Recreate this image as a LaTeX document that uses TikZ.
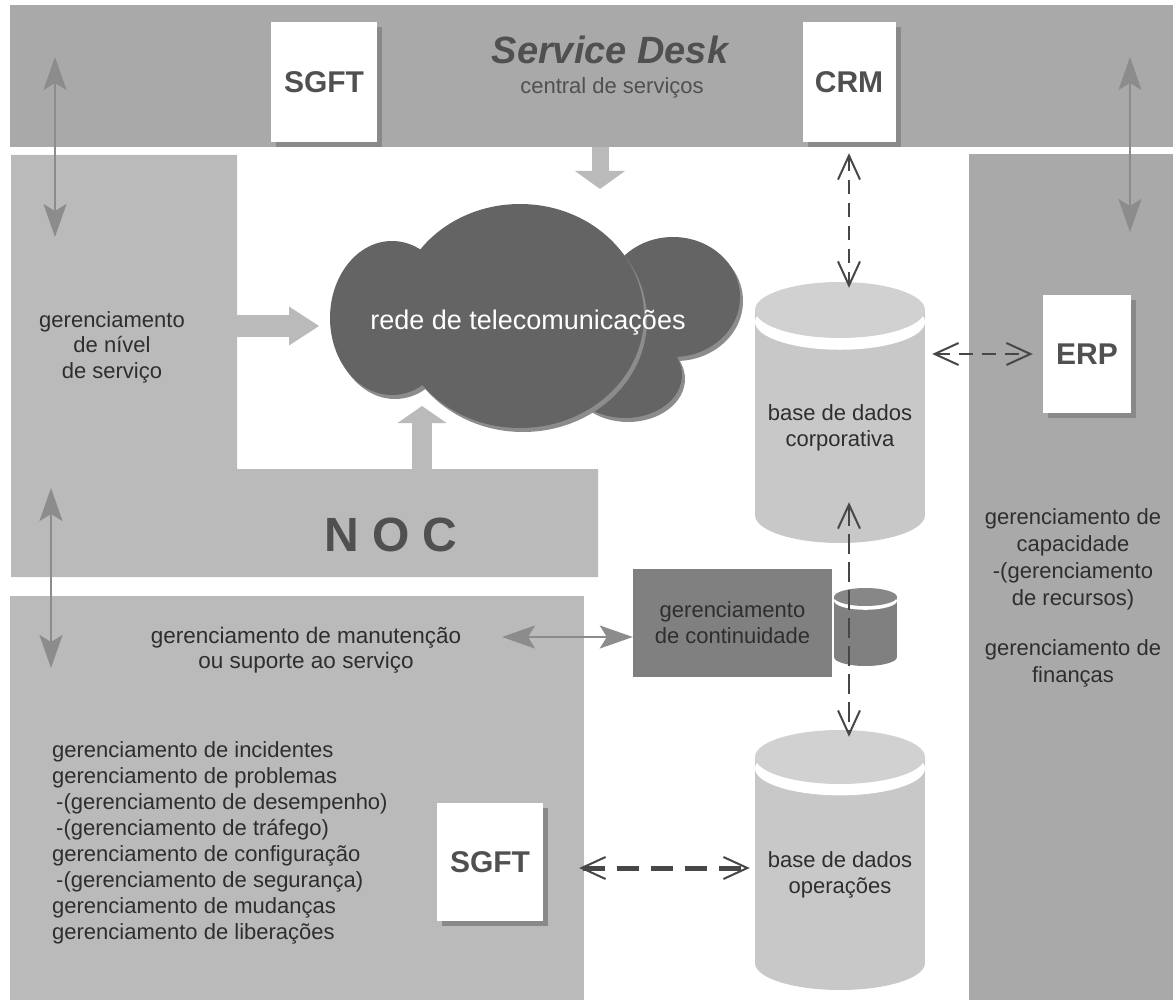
\documentclass[tikz,border=0pt]{standalone}
\usepackage{fontspec}
\setmainfont{Liberation Sans}
\usetikzlibrary{arrows.meta}
\usetikzlibrary{shadows}

\definecolor{banda}{HTML}{A9A9A9}
\definecolor{painel}{HTML}{BABABA}
\definecolor{nuvem}{HTML}{646464}
\definecolor{borda}{HTML}{8C8C8C}
\definecolor{sombra}{HTML}{898989}
\definecolor{escuro}{HTML}{2E2E2E}
\definecolor{titulo}{HTML}{505050}
\definecolor{tracejado}{HTML}{474747}
\definecolor{base}{HTML}{C8C8C8}
\definecolor{tampa}{HTML}{D1D1D1}
\definecolor{continuidade}{HTML}{808080}
\definecolor{tampinha}{HTML}{878787}

% cilindro: x centro, y tampa, y fundo, raio x, raio y, corpo, tampa
\newcommand{\cilindro}[7]{%
	\fill[#6] ({#1-#4},#2) rectangle ({#1+#4},#3);
	\fill[#6] (#1,#3) ellipse [x radius=#4, y radius=#5];
	\fill[white] (#1,{#2+0.42*#5}) ellipse [x radius=#4, y radius=#5];
	\fill[#7] (#1,#2) ellipse [x radius=#4, y radius=#5];
}

\tikzset{
	caixa/.style={fill=white, inner sep=0pt, text=titulo, font=\bfseries\fontsize{30}{32}\selectfont,
		drop shadow={shadow xshift=5pt, shadow yshift=-5pt, fill=sombra, opacity=1}},
	texto/.style={text=escuro, align=center, inner sep=0pt, font=\fontsize{22}{26}\selectfont},
	setalarga/.style n args={3}{draw=painel, line width=#1, -{Triangle[length=#2, width=#3, line width=0pt]}},
	setacinza/.style={draw=borda, line width=2pt, {Stealth[length=33pt, width=23pt, inset=7pt]}-{Stealth[length=33pt, width=23pt, inset=7pt]}},
	ligacao/.style={draw=tracejado, line width=2.6pt, dash pattern=on 14pt off 9pt,
		{Straight Barb[length=24pt, width=22pt, line width=2pt]}-{Straight Barb[length=24pt, width=22pt, line width=2pt]}}
}

\begin{document}
\begin{tikzpicture}[x=1pt, y=-1pt]
	\useasboundingbox (0,0) rectangle (1173,1000);
	
	\fill[banda] (10,5) rectangle (1173,147);
	\fill[painel] (11,155) -- (237,155) -- (237,469) -- (598,469) -- (598,577) -- (11,577) -- cycle;
	\fill[painel] (10,596) rectangle (584,1000);
	\fill[banda] (969,154) rectangle (1173,1000);
	
	\coordinate (desk) at (600,147);
	\coordinate (nuvemTopo) at (600,189);
	\coordinate (nivel) at (237,326);
	\coordinate (nuvemEsq) at (319,326);
	\coordinate (noc) at (422,469);
	\coordinate (nuvemBase) at (422,406);
	\draw[setalarga={17pt}{18pt}{50pt}] (desk) -- (nuvemTopo);
	\draw[setalarga={22pt}{30pt}{39pt}] (nivel) -- (nuvemEsq);
	\draw[setalarga={20pt}{17pt}{49pt}] (noc) -- (nuvemBase);
	
	\foreach \cx/\cy/\rx/\ry in {625/375/57/43, 673/297/67/60}
		\fill[borda] (\cx+3,\cy+4) ellipse [x radius=\rx, y radius=\ry];
	\foreach \cx/\cy/\rx/\ry in {625/375/57/43, 673/297/67/60}
		\fill[nuvem] (\cx,\cy) ellipse [x radius=\rx, y radius=\ry];
	\foreach \cx/\cy/\rx/\ry in {392/318/62/77, 520/316/124/112}
		\fill[borda] (\cx+3,\cy+4) ellipse [x radius=\rx, y radius=\ry];
	\foreach \cx/\cy/\rx/\ry in {392/318/62/77, 520/316/124/112}
		\fill[nuvem] (\cx,\cy) ellipse [x radius=\rx, y radius=\ry];
	\node[text=white, font=\fontsize{27}{29}\selectfont] (rede) at (528,323) {rede de telecomunicações};
	
	\cilindro{840}{310}{515}{85}{28}{base}{tampa}
	\cilindro{840}{757}{963}{85}{27}{base}{tampa}
	\node[minimum width=170pt, minimum height=261pt] (dbcorp) at (840,412.5) {};
	\node[minimum width=170pt, minimum height=260pt] (dbops) at (840,860) {};
	\node[texto] (dbcorptexto) at (840,428) {base de dados\\corporativa};
	\node[texto] (dbopstexto) at (840,875) {base de dados\\operações};
	
	\node[fill=continuidade, minimum width=199pt, minimum height=108pt, texto] (continuidade) at (732.5,623) {gerenciamento\\de continuidade};
	\cilindro{865.5}{597}{657}{31.5}{9}{continuidade}{tampinha}
	
	\node[caixa, minimum width=106pt, minimum height=120pt] (sgftA) at (324,82) {SGFT};
	\node[caixa, minimum width=93pt, minimum height=120pt] (crm) at (849,82) {CRM};
	\node[caixa, minimum width=88pt, minimum height=118pt] (erp) at (1087,354) {ERP};
	\node[caixa, minimum width=106pt, minimum height=118pt] (sgftB) at (490,862) {SGFT};
	
	\node[text=titulo, font=\bfseries\itshape\fontsize{38}{40}\selectfont] (servicedesk) at (610,50) {Service Desk};
	\node[text=titulo, font=\fontsize{22}{24}\selectfont] (central) at (612,88) {central de serviços};
	\node[text=titulo, font=\bfseries\fontsize{48}{50}\selectfont] (nocrotulo) at (391,535) {N O C};
	\node[texto, font=\fontsize{22}{25.5}\selectfont] (nivelservico) at (112,347) {gerenciamento\\de nível\\de serviço};
	\node[texto, font=\fontsize{22.5}{25}\selectfont] (manutencao) at (306,650) {gerenciamento de manutenção\\ou suporte ao serviço};
	\node[texto, font=\fontsize{22}{27}\selectfont] (capacidade) at (1073,559) {gerenciamento de\\capacidade\\-(gerenciamento\\de recursos)};
	\node[texto, font=\fontsize{22}{27}\selectfont] (financas) at (1073,663) {gerenciamento de\\finanças};
	\node[texto, align=left, anchor=west] (processos) at (52,843) {gerenciamento de incidentes\\gerenciamento de problemas\\\hspace{4pt}-(gerenciamento de desempenho)\\\hspace{4pt}-(gerenciamento de tráfego)\\gerenciamento de configuração\\\hspace{4pt}-(gerenciamento de segurança)\\gerenciamento de mudanças\\gerenciamento de liberações};
	
	\coordinate (bandaEsq) at (55,57);
	\coordinate (nivelSeta) at (55,237);
	\coordinate (bandaDir) at (1130,57);
	\coordinate (capacSeta) at (1130,232);
	\coordinate (nocSeta) at (51,488);
	\coordinate (manutSeta) at (51,668);
	\coordinate (manutDir) at (502,637);
	\draw[setacinza] (bandaEsq) -- (nivelSeta);
	\draw[setacinza] (bandaDir) -- (capacSeta);
	\draw[setacinza] (nocSeta) -- (manutSeta);
	\draw[setacinza] (manutDir) -- (manutDir -| continuidade.west);
	
	\draw[ligacao, shorten <=11pt, shorten >=-6pt] (crm.south) -- (crm.south |- dbcorp.north);
	\draw[ligacao, line width=2.2pt, shorten <=7pt, shorten >=10pt] (erp.west -| dbcorp.east) -- (erp.west);
	\draw[ligacao, line width=2.2pt, dash pattern=on 20pt off 8pt, shorten <=-41pt, shorten >=-7pt] ([xshift=9pt]dbcorp.south) -- ([xshift=9pt]dbops.north);
	\draw[ligacao, line width=5pt, dash pattern=on 22pt off 12pt, shorten <=36pt, shorten >=5pt] ([yshift=-6pt]sgftB.east) -- ([yshift=-6pt]sgftB.east -| dbops.west);
\end{tikzpicture}
\end{document}
